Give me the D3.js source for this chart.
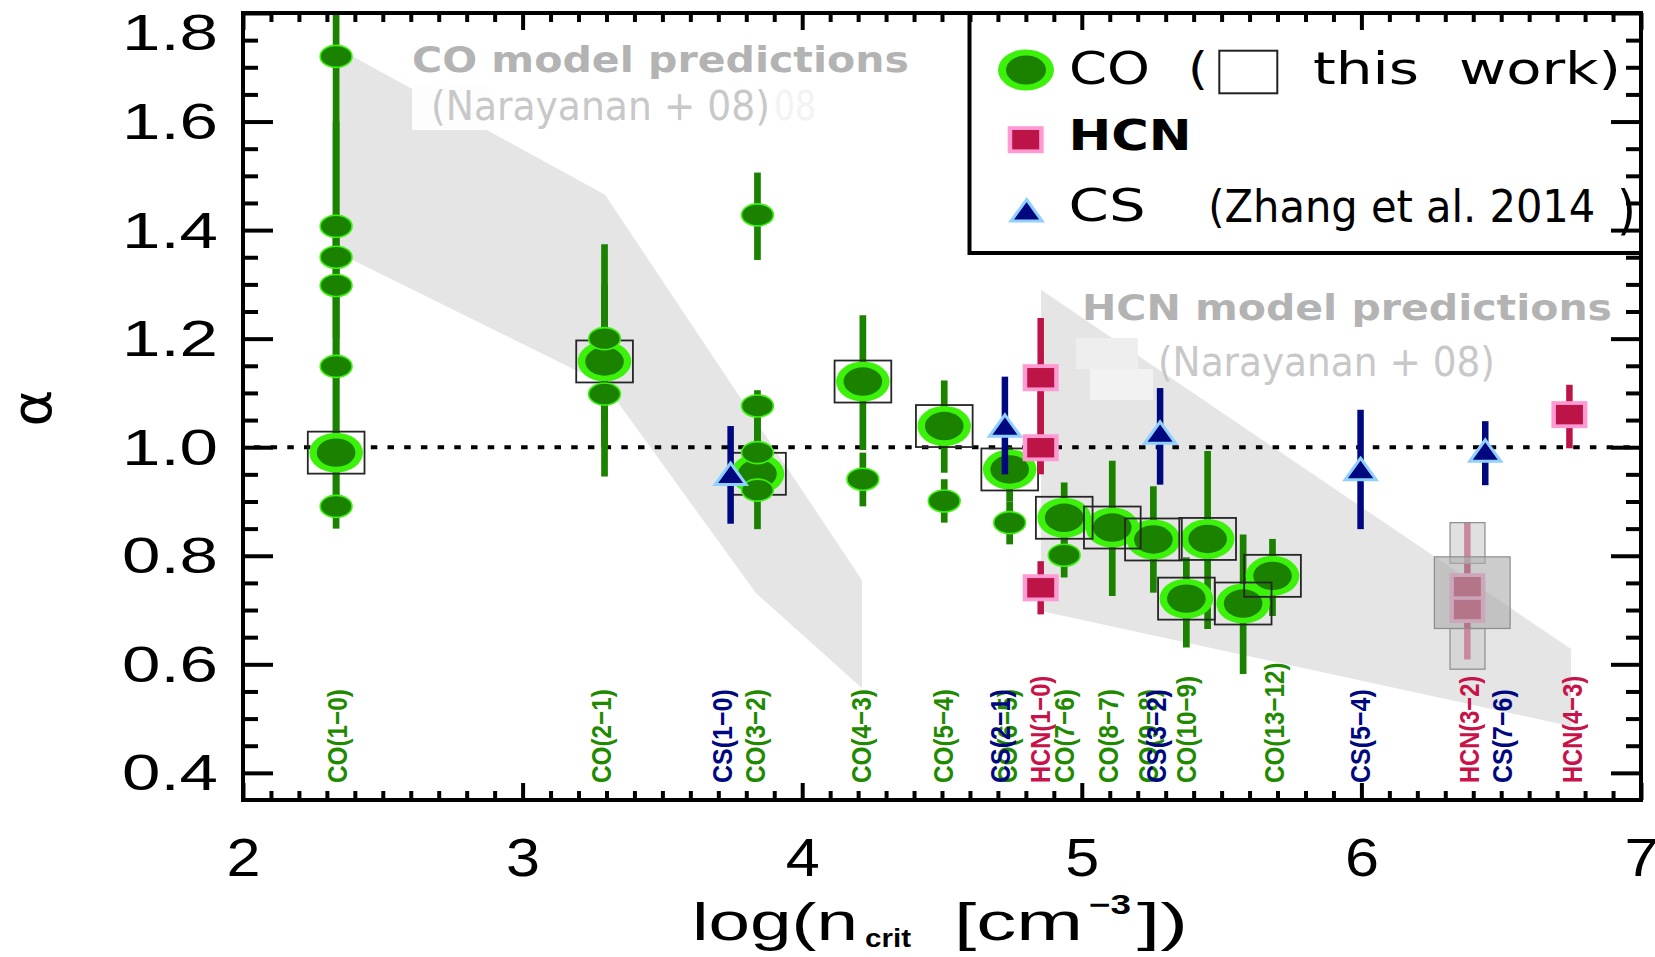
<!DOCTYPE html>
<html>
<head>
<meta charset="utf-8">
<script src="https://cdn.jsdelivr.net/npm/d3@7"></script>
<style>
  html, body { margin: 0; padding: 0; background: #fff; }
  svg { display: block; }
</style>
</head>
<body>
<svg id="chart" width="1655" height="957"></svg>
<script>
// ---------------- data ----------------
const xTickValues = [2, 3, 4, 5, 6, 7];
const yTickValues = [0.4, 0.6, 0.8, 1.0, 1.2, 1.4, 1.6, 1.8];

// CO line ratios: log n_crit, alpha, error limits, 1 = this work (boxed)
const coLogN  = [2.333, 2.333, 2.333, 2.333, 2.333, 2.333, 2.333,
                 3.293, 3.293, 3.293,
                 3.84, 3.84, 3.84, 3.84, 3.84,
                 4.217, 4.217, 4.508, 4.508, 4.742, 4.742, 4.937, 4.937,
                 5.109, 5.256, 5.374, 5.45, 5.577, 5.682];
const coAlpha = [1.72, 1.407, 1.35, 1.298, 1.149, 0.99, 0.891,
                 1.2, 1.158, 1.098,
                 1.428, 1.076, 0.99, 0.951, 0.921,
                 1.121, 0.941, 1.039, 0.901, 0.959, 0.861, 0.87, 0.801,
                 0.852, 0.83, 0.721, 0.831, 0.712, 0.763];
const coLo    = [1.45, 1.30, 1.20, 1.15, 1.00, 0.90, 0.85,
                 1.05, 1.00, 0.946,
                 1.345, 1.00, 0.92, 0.90, 0.849,
                 0.995, 0.891, 0.953, 0.861, 0.90, 0.821, 0.80, 0.76,
                 0.726, 0.732, 0.631, 0.665, 0.582, 0.689];
const coHi    = [1.85, 1.60, 1.45, 1.40, 1.30, 1.15, 0.95,
                 1.374, 1.30, 1.15,
                 1.506, 1.105, 1.06, 1.00, 0.95,
                 1.243, 0.99, 1.123, 0.941, 1.00, 0.90, 0.935, 0.84,
                 0.975, 0.928, 0.797, 0.993, 0.839, 0.831];
const coThisWork = [0, 0, 0, 0, 0, 1, 0,
                    0, 1, 0,
                    0, 0, 0, 1, 0,
                    1, 0, 1, 0, 1, 0, 1, 0,
                    1, 1, 1, 1, 1, 1];

// CS (Zhang et al. 2014)
const csLogN  = [3.744, 4.725, 5.28, 5.997, 6.443];
const csAlpha = [0.944, 1.033, 1.02, 0.953, 0.987];
const csLo    = [0.859, 0.95, 0.931, 0.849, 0.93];
const csHi    = [1.039, 1.13, 1.109, 1.069, 1.048];

// HCN (Zhang et al. 2014)
const hcnLogN  = [4.853, 4.853, 4.853, 6.379, 6.379, 6.744];
const hcnAlpha = [1.128, 0.999, 0.741, 0.743, 0.701, 1.06];
const hcnLo    = [1.0, 0.95, 0.692, 0.70, 0.609, 0.998];
const hcnHi    = [1.238, 1.13, 0.79, 0.861, 0.74, 1.115];

// shaded range boxes over HCN(3-2), in data units
const hcnRangeBoxX0 = [6.317, 6.317, 6.261];
const hcnRangeBoxX1 = [6.442, 6.442, 6.532];
const hcnRangeBoxY0 = [0.786, 0.591, 0.666];
const hcnRangeBoxY1 = [0.861, 0.666, 0.798];

// Narayanan+08 model prediction bands (polygon vertices)
const coModelLogN  = [2.333, 3.295, 4.214, 4.214, 3.835, 3.295, 2.333];
const coModelAlpha = [1.737, 1.465, 0.755, 0.556, 0.731, 1.115, 1.36];
const hcnModelLogN  = [4.854, 6.75, 6.75, 4.854];
const hcnModelAlpha = [1.29, 0.628, 0.486, 0.698];

// transition labels along the bottom
const lineLabels = ["CO(1−0)", "CO(2−1)", "CS(1−0)", "CO(3−2)", "CO(4−3)", "CO(5−4)",
                    "CO(6−5)", "CS(2−1)", "HCN(1−0)", "CO(7−6)", "CO(8−7)", "CO(9−8)",
                    "CS(3−2)", "CO(10−9)", "CO(13−12)", "CS(5−4)", "HCN(3−2)", "CS(7−6)", "HCN(4−3)"];
const lineLabelLogN = [2.333, 3.28, 3.71, 3.83, 4.207, 4.50,
                       4.73, 4.707, 4.847, 4.936, 5.092, 5.234,
                       5.262, 5.371, 5.687, 5.994, 6.384, 6.501, 6.752];
const lineLabelSpecies = ["CO", "CO", "CS", "CO", "CO", "CO",
                          "CO", "CS", "HCN", "CO", "CO", "CO",
                          "CS", "CO", "CO", "CS", "HCN", "CS", "HCN"];

// ---------------- styles ----------------
const DARK_GREEN = "#1b8200";
const BRIGHT_GREEN = "#3df20a";
const NAVY = "#00087f";
const LIGHT_BLUE = "#8fd0ff";
const CRIMSON = "#bd1448";
const PINK = "#ff9ad2";
const speciesColor = { CO: "#1f8a00", CS: "#00087f", HCN: "#c8134a" };
const SANS = "'Liberation Sans', Arial, sans-serif";
const ROUND = "'DejaVu Sans', 'Liberation Sans', sans-serif";
const NARROW = "'Liberation Sans Narrow', 'DejaVu Sans Condensed', 'DejaVu Sans', sans-serif";

// ---------------- scales ----------------
const plotLeft = 243, plotRight = 1641, plotTop = 13, plotBottom = 800;
const x = d3.scaleLinear().domain([2, 7]).range([plotLeft, plotRight]);
const y = d3.scaleLinear().domain([0.35, 1.8]).range([plotBottom, plotTop]);

const svg = d3.select("#chart");
svg.append("defs").append("clipPath").attr("id", "plotClip")
  .append("rect").attr("x", plotLeft).attr("y", plotTop)
  .attr("width", plotRight - plotLeft).attr("height", plotBottom - plotTop);

const plot = svg.append("g").attr("clip-path", "url(#plotClip)");

// ---------------- model bands ----------------
const poly = (xs, ys) => d3.line()(xs.map((v, i) => [x(v), y(ys[i])])) + "Z";
plot.append("path").attr("d", poly(coModelLogN, coModelAlpha)).attr("fill", "#e5e5e5");
plot.append("path").attr("d", poly(hcnModelLogN, hcnModelAlpha)).attr("fill", "#e5e5e5");

// ---------------- model annotations ----------------
const ann = svg.append("g");
ann.append("rect").attr("x", 412).attr("y", 85).attr("width", 77).attr("height", 45).attr("fill", "#fdfdfd");
ann.append("text").attr("x", 774).attr("y", 120).text("08")
  .attr("font-family", NARROW).attr("font-size", 40).attr("fill", "#f3f3f3")
  .attr("textLength", 42).attr("lengthAdjust", "spacingAndGlyphs");
ann.append("text").attr("x", 412).attr("y", 72).text("CO model predictions")
  .attr("font-family", ROUND).attr("font-weight", "bold").attr("font-size", 36).attr("fill", "#b3b3b3")
  .attr("textLength", 497).attr("lengthAdjust", "spacingAndGlyphs");
ann.append("text").attr("x", 431).attr("y", 120).text("(Narayanan + 08)")
  .attr("font-family", NARROW).attr("font-size", 40).attr("fill", "#c8c8c8")
  .attr("textLength", 339).attr("lengthAdjust", "spacingAndGlyphs");

ann.append("rect").attr("x", 1076).attr("y", 338).attr("width", 62).attr("height", 31).attr("fill", "#eeeeee");
ann.append("rect").attr("x", 1090).attr("y", 369).attr("width", 63).attr("height", 31).attr("fill", "#f2f2f2");
ann.append("text").attr("x", 1082).attr("y", 320).text("HCN model predictions")
  .attr("font-family", ROUND).attr("font-weight", "bold").attr("font-size", 36).attr("fill", "#b3b3b3")
  .attr("textLength", 530).attr("lengthAdjust", "spacingAndGlyphs");
ann.append("text").attr("x", 1158).attr("y", 376).text("(Narayanan + 08)")
  .attr("font-family", NARROW).attr("font-size", 40).attr("fill", "#c8c8c8")
  .attr("textLength", 337).attr("lengthAdjust", "spacingAndGlyphs");

// ---------------- alpha = 1 reference ----------------
svg.append("line").attr("x1", x(2)).attr("x2", x(7)).attr("y1", y(1.0)).attr("y2", y(1.0))
  .attr("stroke", "#000").attr("stroke-width", 4).attr("stroke-dasharray", "6.5 10.2")
  .attr("stroke-dashoffset", 5.8);

const marks = svg.append("g").attr("clip-path", "url(#plotClip)");

// ---------------- CO ----------------
const coIdx = d3.range(coLogN.length);
marks.selectAll(".co-err").data(coIdx).join("line").attr("class", "co-err")
  .attr("x1", i => x(coLogN[i])).attr("x2", i => x(coLogN[i]))
  .attr("y1", i => y(coLo[i])).attr("y2", i => y(coHi[i]))
  .attr("stroke", DARK_GREEN).attr("stroke-width", 6.7);

const own = coIdx.filter(i => coThisWork[i] === 1);
const other = coIdx.filter(i => coThisWork[i] === 0);

marks.selectAll(".co-big-o").data(own).join("ellipse").attr("class", "co-big-o")
  .attr("cx", i => x(coLogN[i])).attr("cy", i => y(coAlpha[i]))
  .attr("rx", 26.8).attr("ry", 20).attr("fill", BRIGHT_GREEN);
marks.selectAll(".co-big-i").data(own).join("ellipse").attr("class", "co-big-i")
  .attr("cx", i => x(coLogN[i])).attr("cy", i => y(coAlpha[i]))
  .attr("rx", 19.3).attr("ry", 14.2).attr("fill", DARK_GREEN);
marks.selectAll(".co-box").data(own).join("rect").attr("class", "co-box")
  .attr("x", i => x(coLogN[i]) - 28.3).attr("y", i => y(coAlpha[i]) - 21)
  .attr("width", 56.7).attr("height", 42)
  .attr("fill", "none").attr("stroke", "#262626").attr("stroke-width", 1.8);
marks.selectAll(".co-small").data(other).join("ellipse").attr("class", "co-small")
  .attr("cx", i => x(coLogN[i])).attr("cy", i => y(coAlpha[i]))
  .attr("rx", 15.9).attr("ry", 11).attr("fill", DARK_GREEN)
  .attr("stroke", BRIGHT_GREEN).attr("stroke-width", 1.6);

// ---------------- CS ----------------
const tri = "M0,-14.5L15.5,7L-15.5,7Z";
const csIdx = d3.range(csLogN.length);
marks.selectAll(".cs-err").data(csIdx).join("line").attr("class", "cs-err")
  .attr("x1", i => x(csLogN[i])).attr("x2", i => x(csLogN[i]))
  .attr("y1", i => y(csLo[i])).attr("y2", i => y(csHi[i]))
  .attr("stroke", NAVY).attr("stroke-width", 6.5);
marks.selectAll(".cs-pt").data(csIdx).join("path").attr("class", "cs-pt")
  .attr("transform", i => `translate(${x(csLogN[i])},${y(csAlpha[i])})`)
  .attr("d", tri).attr("fill", NAVY).attr("stroke", LIGHT_BLUE).attr("stroke-width", 3)
  .attr("stroke-linejoin", "miter");

// ---------------- HCN ----------------
const hcnIdx = d3.range(hcnLogN.length);
marks.selectAll(".hcn-err").data(hcnIdx).join("line").attr("class", "hcn-err")
  .attr("x1", i => x(hcnLogN[i])).attr("x2", i => x(hcnLogN[i]))
  .attr("y1", i => y(hcnLo[i])).attr("y2", i => y(hcnHi[i]))
  .attr("stroke", CRIMSON).attr("stroke-width", 6.5);
marks.selectAll(".hcn-o").data(hcnIdx).join("rect").attr("class", "hcn-o")
  .attr("x", i => x(hcnLogN[i]) - 18).attr("y", i => y(hcnAlpha[i]) - 13.5)
  .attr("width", 36).attr("height", 27).attr("fill", PINK);
marks.selectAll(".hcn-i").data(hcnIdx).join("rect").attr("class", "hcn-i")
  .attr("x", i => x(hcnLogN[i]) - 13.5).attr("y", i => y(hcnAlpha[i]) - 9.7)
  .attr("width", 27).attr("height", 19.4).attr("fill", CRIMSON);

// shaded range boxes
const boxIdx = d3.range(hcnRangeBoxX0.length);
marks.selectAll(".rng").data(boxIdx).join("rect").attr("class", "rng")
  .attr("x", i => x(hcnRangeBoxX0[i])).attr("y", i => y(hcnRangeBoxY1[i]))
  .attr("width", i => x(hcnRangeBoxX1[i]) - x(hcnRangeBoxX0[i]))
  .attr("height", i => y(hcnRangeBoxY0[i]) - y(hcnRangeBoxY1[i]))
  .attr("fill", i => i === 2 ? "#afafaf" : "#cecece").attr("fill-opacity", 0.63)
  .attr("stroke", "#8c8c8c").attr("stroke-width", 1.2);

// ---------------- transition labels ----------------
const labels = svg.append("g");
d3.range(lineLabels.length).forEach(i => {
  labels.append("text")
    .attr("transform", `translate(${x(lineLabelLogN[i]) + 10.5},783) rotate(-90)`)
    .attr("font-family", SANS).attr("font-weight", "bold").attr("font-size", 28.5)
    .attr("fill", speciesColor[lineLabelSpecies[i]])
    .attr("textLength", lineLabels[i].length * 13.4).attr("lengthAdjust", "spacingAndGlyphs")
    .text(lineLabels[i]);
});

// ---------------- legend ----------------
const lg = svg.append("g");
lg.append("rect").attr("x", 969.5).attr("y", plotTop).attr("width", plotRight - 969.5).attr("height", 240)
  .attr("fill", "#fff").attr("stroke", "#000").attr("stroke-width", 4);
lg.append("ellipse").attr("cx", 1026).attr("cy", 70).attr("rx", 28).attr("ry", 20.5).attr("fill", BRIGHT_GREEN);
lg.append("ellipse").attr("cx", 1026).attr("cy", 70).attr("rx", 20).attr("ry", 14.5).attr("fill", DARK_GREEN);
const lgText = (tx, ty, str, len, opts = {}) => lg.append("text")
  .attr("x", tx).attr("y", ty).text(str)
  .attr("font-family", opts.family || ROUND).attr("font-size", opts.size || 44)
  .attr("font-weight", opts.weight || "normal").attr("fill", "#000")
  .attr("textLength", len).attr("lengthAdjust", "spacingAndGlyphs");
lgText(1069, 83.5, "CO", 81);
lgText(1188, 83.5, "(", 20);
lg.append("rect").attr("x", 1219.3).attr("y", 50.7).attr("width", 58).attr("height", 42.6)
  .attr("fill", "#fff").attr("stroke", "#222").attr("stroke-width", 2);
lgText(1313, 83.5, "this", 106);
lgText(1459, 83.5, "work)", 162);

lg.append("rect").attr("x", 1007.7).attr("y", 126.2).attr("width", 36).attr("height", 27).attr("fill", PINK);
lg.append("rect").attr("x", 1012.2).attr("y", 130).attr("width", 27).attr("height", 19.4).attr("fill", CRIMSON);
lgText(1068.6, 150, "HCN", 123, { weight: "bold", size: 42 });

lg.append("path").attr("transform", "translate(1026.6,214)").attr("d", tri)
  .attr("fill", NAVY).attr("stroke", LIGHT_BLUE).attr("stroke-width", 3);
lgText(1068.6, 220.7, "CS", 77);
lgText(1208.3, 221.7, "(Zhang et al. 2014", 387, { family: NARROW });
lgText(1617, 229, ")", 19, { family: NARROW, size: 54 });

// ---------------- axes ----------------
const styleTicks = g => {
  g.select(".domain").remove();
  g.selectAll("line").attr("stroke", "#000").attr("stroke-width", 4);
};
const xMinor = d3.range(20, 71).filter(k => k % 10 !== 0).map(k => k / 10);
const yMinor = d3.range(8, 37).filter(k => k % 4 !== 0).map(k => k / 20);

// bottom
svg.append("g").attr("transform", `translate(0,${plotBottom})`)
  .call(d3.axisBottom(x).tickValues(xMinor).tickSize(-9).tickSizeOuter(0).tickFormat(""))
  .call(styleTicks);
const gx = svg.append("g").attr("transform", `translate(0,${plotBottom})`)
  .call(d3.axisBottom(x).tickValues(xTickValues).tickSize(-17).tickSizeOuter(0)
        .tickPadding(38).tickFormat(d3.format("d")))
  .call(styleTicks);
gx.selectAll("text").attr("font-family", SANS).attr("font-size", 54).attr("fill", "#000")
  .attr("textLength", 34).attr("lengthAdjust", "spacingAndGlyphs");

// top
svg.append("g").attr("transform", `translate(0,${plotTop})`)
  .call(d3.axisTop(x).tickValues(xMinor).tickSize(-9).tickSizeOuter(0).tickFormat(""))
  .call(styleTicks);
svg.append("g").attr("transform", `translate(0,${plotTop})`)
  .call(d3.axisTop(x).tickValues(xTickValues).tickSize(-17).tickSizeOuter(0).tickFormat(""))
  .call(styleTicks);

// left
svg.append("g").attr("transform", `translate(${plotLeft},0)`)
  .call(d3.axisLeft(y).tickValues(yMinor).tickSize(-15).tickSizeOuter(0).tickFormat(""))
  .call(styleTicks);
const gy = svg.append("g").attr("transform", `translate(${plotLeft},0)`)
  .call(d3.axisLeft(y).tickValues(yTickValues).tickSize(-30).tickSizeOuter(0)
        .tickPadding(25).tickFormat(d3.format(".1f")))
  .call(styleTicks);
gy.selectAll("text").attr("font-family", SANS).attr("font-size", 50).attr("fill", "#000")
  .attr("textLength", 96).attr("lengthAdjust", "spacingAndGlyphs")
  .attr("y", d => (y(d) - plotTop < 20 ? 20 : 1));

// right
svg.append("g").attr("transform", `translate(${plotRight},0)`)
  .call(d3.axisRight(y).tickValues(yMinor).tickSize(-15).tickSizeOuter(0).tickFormat(""))
  .call(styleTicks);
svg.append("g").attr("transform", `translate(${plotRight},0)`)
  .call(d3.axisRight(y).tickValues(yTickValues).tickSize(-30).tickSizeOuter(0).tickFormat(""))
  .call(styleTicks);

// frame
svg.append("rect").attr("x", plotLeft).attr("y", plotTop)
  .attr("width", plotRight - plotLeft).attr("height", plotBottom - plotTop)
  .attr("fill", "none").attr("stroke", "#000").attr("stroke-width", 4);

// ---------------- axis titles ----------------
const title = svg.append("g").attr("font-family", SANS).attr("fill", "#000");
const tPiece = (tx, ty, str, size, len, weight) => title.append("text")
  .attr("x", tx).attr("y", ty).text(str).attr("font-size", size)
  .attr("font-weight", weight || "normal")
  .attr("textLength", len).attr("lengthAdjust", "spacingAndGlyphs");
tPiece(692, 940, "log(n", 51, 166);
tPiece(865, 946.5, "crit", 25, 46, "bold");
tPiece(954, 940, "[cm", 51, 129);
tPiece(1089, 914, "−3", 27, 42, "bold");
tPiece(1137, 940, "])", 51, 51);

svg.append("text").attr("transform", "translate(31,408) rotate(-90)")
  .attr("text-anchor", "middle").attr("dominant-baseline", "central")
  .attr("font-family", ROUND).attr("font-size", 56)
  .attr("fill", "#000").text("α");
</script>
</body>
</html>
